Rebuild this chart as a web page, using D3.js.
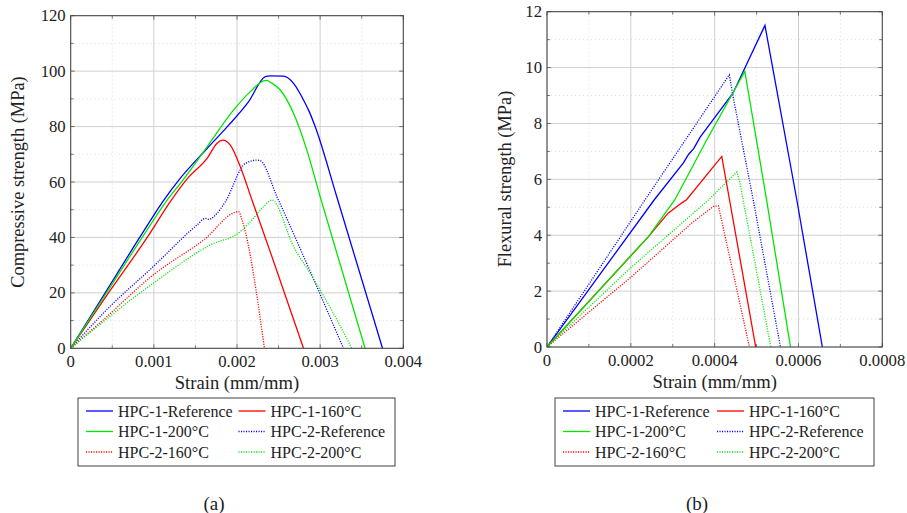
<!DOCTYPE html>
<html lang="en">
<head>
<meta charset="utf-8">
<title>Compressive and flexural strength</title>
<style type="text/css">
  body { margin: 0; background: #fff; }
  svg { width: 907px; height: 513px; display: block; }
</style>
<script src="https://cdnjs.cloudflare.com/ajax/libs/d3/7.8.5/d3.min.js"></script>
</head>
<body>
<div id="chart"></div>
<script>
var FONT = "'Liberation Serif', 'Times New Roman', Times, serif";

// series names and styles, same order in both legends
var seriesNames = ["HPC-1-Reference", "HPC-1-160°C", "HPC-1-200°C", "HPC-2-Reference", "HPC-2-160°C", "HPC-2-200°C"];
var seriesColors = ["#0000ff", "#ff0000", "#00e600", "#0000ff", "#ff0000", "#00e600"];
var seriesDotted = [false, false, false, true, true, true];

// (a) compressive: [strain, MPa]
var comp1Ref = [[0,0],[0.0004,19.3],[0.00083,40],[0.00112,53.5],[0.0013,60.7],[0.00164,72.1],[0.0019,80.5],[0.00214,89],[0.00234,98],[0.0024,98.3],[0.00256,98.2],[0.00268,95.6],[0.0028,89.6],[0.00287,85.3],[0.00294,80],[0.0032,54.7],[0.00375,0]];
var comp1T160 = [[0,0],[0.00045,19.8],[0.00092,40],[0.00121,53.5],[0.00141,61.5],[0.00164,68.5],[0.00176,74],[0.00183,75.1],[0.00192,73.3],[0.00204,65.5],[0.00218,53.5],[0.0024,34.8],[0.0028,0]];
var comp1T200 = [[0,0],[0.00042,19.5],[0.00086,40],[0.00116,53.5],[0.00135,60.7],[0.00164,72.7],[0.00196,86],[0.00216,92.6],[0.00232,96.5],[0.00236,96.7],[0.0024,96],[0.00252,93.2],[0.00268,84.8],[0.00284,71.5],[0.003,54.7],[0.00354,0]];
var comp2Ref = [[0,0],[0.00047,15],[0.00099,29.4],[0.00152,44.5],[0.00162,46.9],[0.00166,46.5],[0.00176,48.7],[0.00186,52.9],[0.0021,66.7],[0.00224,67.9],[0.00228,67.7],[0.00248,54.7],[0.00328,0]];
var comp2T160 = [[0,0],[0.00039,10.2],[0.00099,26.4],[0.0016,39.1],[0.00202,49.3],[0.00206,46.3],[0.00233,0]];
var comp2T200 = [[0,0],[0.00099,23.4],[0.00168,37.3],[0.00204,42.1],[0.00216,45.7],[0.00232,51.1],[0.00242,53.5],[0.00268,36.7],[0.00288,27],[0.00316,12.6],[0.00338,0]];

// (b) flexural: [strain, MPa]
var flex1Ref = [[0,0],[0.000256,5.27],[0.000325,6.58],[0.000338,6.9],[0.00035,7.1],[0.000365,7.5],[0.000444,9.09],[0.00052,11.51],[0.000596,5.27],[0.000657,0]];
var flex1T160 = [[0,0],[0.000242,3.95],[0.000289,4.79],[0.000321,5.15],[0.000333,5.27],[0.000417,6.82],[0.000498,0]];
var flex1T200 = [[0,0],[0.000242,3.95],[0.000305,5.27],[0.000381,7.41],[0.000472,9.86],[0.000524,5.26],[0.000581,0]];
var flex2Ref = [[0,0],[0.000234,5.27],[0.000435,9.74],[0.000444,8.96],[0.000492,5.27],[0.000557,0]];
var flex2T160 = [[0,0],[0.000202,2.52],[0.000345,4.43],[0.000397,5.03],[0.000409,5.05],[0.000483,0]];
var flex2T200 = [[0,0],[0.000194,2.76],[0.000385,5.26],[0.000453,6.26],[0.00046,5.9],[0.000534,0]];

// ticks
var compXTicks = [0, 0.001, 0.002, 0.003, 0.004];
var compYTicks = [0, 20, 40, 60, 80, 100, 120];
var flexXTicks = [0, 0.0002, 0.0004, 0.0006, 0.0008];
var flexYTicks = [0, 2, 4, 6, 8, 10, 12];

var svg = d3.select("#chart").append("svg")
  .attr("width", 907)
  .attr("height", 513)
  .attr("font-family", FONT);

function label(sel, size) {
  return sel.attr("font-family", FONT).style("font-family", FONT)
    .attr("font-size", size || 16).attr("fill", "#222");
}

function drawPanel(opt) {
  var x = d3.scaleLinear().domain(opt.xDomain).range([opt.left, opt.right]);
  var y = d3.scaleLinear().domain(opt.yDomain).range([opt.bottom, opt.top]);
  var g = svg.append("g");

  // minor ticks halfway between majors
  var xMinor = opt.xTicks.slice(1).map(function(d, i) { return (d + opt.xTicks[i]) / 2; });
  var yMinor = opt.yTicks.slice(1).map(function(d, i) { return (d + opt.yTicks[i]) / 2; });

  // minor grid (dotted)
  g.selectAll(".mgx").data(xMinor).enter().append("line")
    .attr("x1", x).attr("x2", x).attr("y1", opt.top).attr("y2", opt.bottom)
    .attr("stroke", "#d8d8d8").attr("stroke-width", 0.8).attr("stroke-dasharray", "1,3");
  g.selectAll(".mgy").data(yMinor).enter().append("line")
    .attr("x1", opt.left).attr("x2", opt.right).attr("y1", y).attr("y2", y)
    .attr("stroke", "#d8d8d8").attr("stroke-width", 0.8).attr("stroke-dasharray", "1,3");

  // major grid
  g.selectAll(".gx").data(opt.xTicks).enter().append("line")
    .attr("x1", x).attr("x2", x).attr("y1", opt.top).attr("y2", opt.bottom)
    .attr("stroke", "#d0d0d0").attr("stroke-width", 1);
  g.selectAll(".gy").data(opt.yTicks).enter().append("line")
    .attr("x1", opt.left).attr("x2", opt.right).attr("y1", y).attr("y2", y)
    .attr("stroke", "#d0d0d0").attr("stroke-width", 1);

  // tick marks pointing inward on all four sides
  var tk = "#555";
  [[opt.xTicks, 4], [xMinor, 3]].forEach(function(p) {
    g.selectAll(null).data(p[0]).enter().append("line")
      .attr("x1", x).attr("x2", x).attr("y1", opt.bottom).attr("y2", opt.bottom - p[1])
      .attr("stroke", tk).attr("stroke-width", 0.8);
    g.selectAll(null).data(p[0]).enter().append("line")
      .attr("x1", x).attr("x2", x).attr("y1", opt.top).attr("y2", opt.top + p[1])
      .attr("stroke", tk).attr("stroke-width", 0.8);
  });
  [[opt.yTicks, 4], [yMinor, 3]].forEach(function(p) {
    g.selectAll(null).data(p[0]).enter().append("line")
      .attr("x1", opt.left).attr("x2", opt.left + p[1]).attr("y1", y).attr("y2", y)
      .attr("stroke", tk).attr("stroke-width", 0.8);
    g.selectAll(null).data(p[0]).enter().append("line")
      .attr("x1", opt.right).attr("x2", opt.right - p[1]).attr("y1", y).attr("y2", y)
      .attr("stroke", tk).attr("stroke-width", 0.8);
  });

  // curves
  var line = d3.line()
    .x(function(d) { return x(d[0]); })
    .y(function(d) { return y(d[1]); })
    .curve(opt.curve);

  var clipId = "clip" + opt.id;
  svg.append("clipPath").attr("id", clipId).append("rect")
    .attr("x", opt.left).attr("y", opt.top)
    .attr("width", opt.right - opt.left).attr("height", opt.bottom - opt.top);

  // draw dotted first, solid on top
  var order = [3, 4, 5, 0, 1, 2];
  var cg = g.append("g").attr("clip-path", "url(#" + clipId + ")");
  order.forEach(function(i) {
    cg.append("path")
      .datum(opt.series[i])
      .attr("d", line)
      .attr("fill", "none")
      .attr("stroke", seriesColors[i])
      .attr("stroke-width", 1.3)
      .attr("stroke-dasharray", seriesDotted[i] ? "1.1,1.4" : null);
  });

  // axis box
  g.append("rect")
    .attr("x", opt.left).attr("y", opt.top)
    .attr("width", opt.right - opt.left).attr("height", opt.bottom - opt.top)
    .attr("fill", "none").attr("stroke", "#404040").attr("stroke-width", 1);

  // tick labels
  g.selectAll(".xl").data(opt.xTicks).enter().append("text")
    .call(label, 16.7)
    .attr("x", x).attr("y", opt.bottom + 18.5)
    .attr("text-anchor", "middle")
    .text(function(d) { return d === 0 ? "0" : opt.xFormat(d); });
  g.selectAll(".yl").data(opt.yTicks).enter().append("text")
    .call(label, 16.7)
    .attr("x", opt.left - 5).attr("y", function(d) { return y(d) + 5.5; })
    .attr("text-anchor", "end")
    .text(function(d) { return d; });

  // axis titles
  g.append("text").call(label, 18.6)
    .attr("x", (opt.left + opt.right) / 2).attr("y", opt.bottom + 41)
    .attr("text-anchor", "middle")
    .text("Strain (mm/mm)");
  g.append("text").call(label, 18.4)
    .attr("transform", "translate(" + opt.yTitleX + "," + opt.yTitleY + ") rotate(-90)")
    .attr("text-anchor", "middle")
    .text(opt.yTitle);

  // legend
  var lg = g.append("g");
  lg.append("rect")
    .attr("x", opt.legend.x).attr("y", 398)
    .attr("width", opt.legend.w).attr("height", 68)
    .attr("fill", "#fff").attr("stroke", "#404040").attr("stroke-width", 1);
  seriesNames.forEach(function(name, i) {
    var col = i % 2, row = Math.floor(i / 2);
    var lx = opt.legend.x + 8 + col * opt.legend.colW;
    var ly = 411 + row * 20.5;
    lg.append("line")
      .attr("x1", lx).attr("x2", lx + 27).attr("y1", ly).attr("y2", ly)
      .attr("stroke", seriesColors[i]).attr("stroke-width", 1.3)
      .attr("stroke-dasharray", seriesDotted[i] ? "1.1,1.4" : null);
    lg.append("text").call(label, 16)
      .attr("x", lx + 32).attr("y", ly + 5.5)
      .text(name);
  });

  // caption
  g.append("text").call(label, 19)
    .attr("x", opt.caption).attr("y", 510)
    .attr("text-anchor", "middle")
    .text(opt.captionText);
}

drawPanel({
  id: "a",
  left: 70.7, right: 403.3, top: 15.7, bottom: 348.3,
  xDomain: [0, 0.004], yDomain: [0, 120],
  xTicks: compXTicks, yTicks: compYTicks,
  xFormat: d3.format(".3f"),
  curve: d3.curveMonotoneX,
  series: [comp1Ref, comp1T160, comp1T200, comp2Ref, comp2T160, comp2T200],
  yTitle: "Compressive strength (MPa)", yTitleX: 24, yTitleY: 182,
  legend: { x: 78, w: 317, colW: 152.5 },
  caption: 214, captionText: "(a)"
});

drawPanel({
  id: "b",
  left: 547, right: 882.3, top: 11.7, bottom: 347,
  xDomain: [0, 0.0008], yDomain: [0, 12],
  xTicks: flexXTicks, yTicks: flexYTicks,
  xFormat: d3.format(".4f"),
  curve: d3.curveLinear,
  series: [flex1Ref, flex1T160, flex1T200, flex2Ref, flex2T160, flex2T200],
  yTitle: "Flexural strength (MPa)", yTitleX: 511, yTitleY: 179,
  legend: { x: 555, w: 319, colW: 154 },
  caption: 697, captionText: "(b)"
});
</script>
</body>
</html>
